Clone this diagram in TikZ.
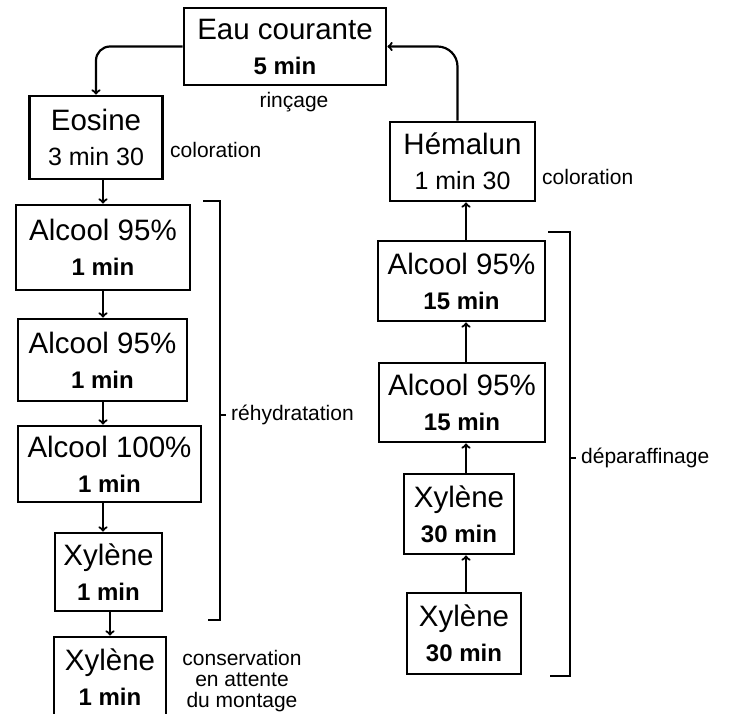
\documentclass[tikz,border=0pt]{standalone}
\usepackage{fontspec}
\setmainfont{Liberation Sans}
\newcommand{\dur}[1]{{\fontsize{24}{35}\selectfont\bfseries #1}}
\newcommand{\durn}[1]{{\fontsize{25}{35}\selectfont #1}}
\begin{document}
\begin{tikzpicture}[x=1pt,y=-1pt,
    box/.style = {draw, line width=2.8pt, align=center, inner sep=0pt,
                  font=\fontsize{29.5}{35}\selectfont},
    lbl/.style = {inner sep=0pt, font=\fontsize{21}{21}\selectfont},
    arrow/.style = {line width=2.2pt,-to},
    bracket/.style = {line width=1.6pt}]
    \useasboundingbox (0,0) rectangle (731,713);

    % rinsing at the top
    \node [box, minimum width=202, minimum height=77] (eau) at (285,46.5) {Eau courante\\\dur{5 min}};
    \node [lbl] (rincage) at (294,102) {rinçage};

    % left column
    \node [box, minimum width=133, minimum height=83] (eosine) at (96,137.5) {Eosine\\\durn{3 min 30}};
    \node [box, minimum width=174, minimum height=85] (alcA) at (103,247.5) {Alcool 95\%\\\dur{1 min}};
    \node [box, minimum width=169, minimum height=82] (alcB) at (102.5,360) {Alcool 95\%\\\dur{1 min}};
    \node [box, minimum width=183, minimum height=76] (alcC) at (109.5,464) {Alcool 100\%\\\dur{1 min}};
    \node [box, minimum width=107, minimum height=78] (xylA) at (108.5,572) {Xylène\\\dur{1 min}};
    \node [box, minimum width=112, minimum height=80] (xylB) at (110,677) {Xylène\\\dur{1 min}};

    \node [lbl, anchor=west] (colorL) at (170,150) {coloration};
    \node [lbl, align=center] (conserv) at (242,681) {conservation\\en attente\\du montage};

    % right column
    \node [box, minimum width=145, minimum height=79] (hem) at (462.5,161.5) {Hémalun\\\durn{1 min 30}};
    \node [box, minimum width=167, minimum height=80] (alcD) at (461.5,281) {Alcool 95\%\\\dur{15 min}};
    \node [box, minimum width=166, minimum height=79] (alcE) at (462,402.5) {Alcool 95\%\\\dur{15 min}};
    \node [box, minimum width=110, minimum height=80] (xylC) at (459,514) {Xylène\\\dur{30 min}};
    \node [box, minimum width=114, minimum height=81] (xylD) at (464,633.5) {Xylène\\\dur{30 min}};

    \node [lbl, anchor=west] (colorR) at (542,177) {coloration};

    % arrows
    \coordinate (colL) at (103,0);
    \coordinate (colLb) at (110,0);
    \coordinate (colR) at (466,0);

    \draw[arrow, rounded corners=14] (eau.west) -| (eosine.north);
    \draw[arrow, rounded corners=20] ([xshift=-5]hem.north) |- (eau.east);

    \draw[arrow] (colL |- eosine.south) -- (colL |- alcA.north);
    \draw[arrow] (colL |- alcA.south) -- (colL |- alcB.north);
    \draw[arrow] (colL |- alcB.south) -- (colL |- alcC.north);
    \draw[arrow] (colL |- alcC.south) -- (colL |- xylA.north);
    \draw[arrow] (colLb |- xylA.south) -- (colLb |- xylB.north);

    \draw[arrow] (colR |- xylD.north) -- (colR |- xylC.south);
    \draw[arrow] (colR |- xylC.north) -- (colR |- alcE.south);
    \draw[arrow] (colR |- alcE.north) -- (colR |- alcD.south);
    \draw[arrow] (colR |- alcD.north) -- (colR |- hem.south);

    % brackets
    \draw[bracket] (203,201) -- (220,201) -- (220,620) -- (208,620);
    \draw[bracket] (220,415) -- (226,415);
    \node [lbl, anchor=west] (rehyd) at (231,415) {réhydratation};

    \draw[bracket] (548,232) -- (570,232) -- (570,676) -- (550,676);
    \draw[bracket] (570,458) -- (576,458);
    \node [lbl, anchor=west] (depar) at (581,458) {déparaffinage};
\end{tikzpicture}
\end{document}
